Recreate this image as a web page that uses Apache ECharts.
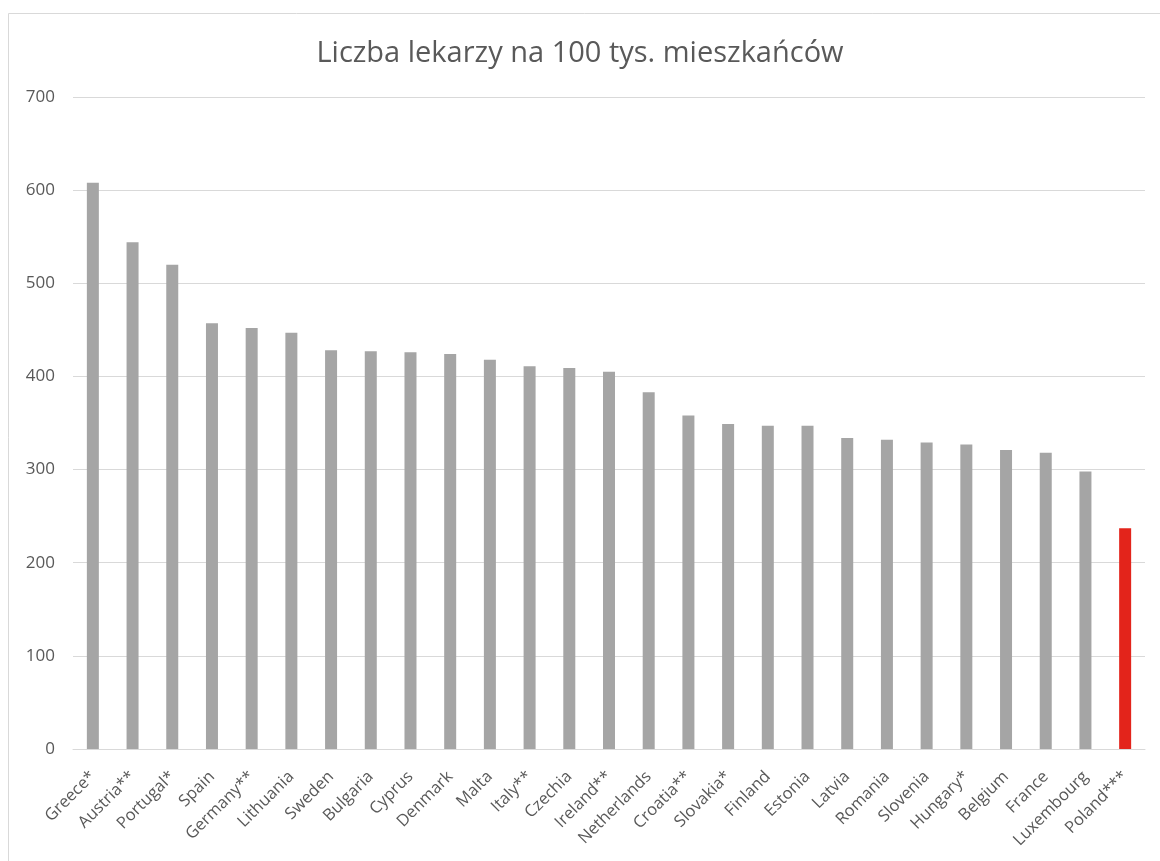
<!DOCTYPE html>
<html>
<head>
<meta charset="utf-8">
<script src="https://cdn.jsdelivr.net/npm/echarts@6/dist/echarts.min.js"></script>
<style>
html,body{margin:0;padding:0;background:#fff;}
#chart{width:1160px;height:861px;}
</style>
</head>
<body>
<div id="chart"></div>
<script>
const titleText = 'Liczba lekarzy na 100 tys. mieszkańców';
const countries = ['Greece*','Austria**','Portugal*','Spain','Germany**','Lithuania','Sweden','Bulgaria','Cyprus','Denmark','Malta','Italy**','Czechia','Ireland**','Netherlands','Croatia**','Slovakia*','Finland','Estonia','Latvia','Romania','Slovenia','Hungary*','Belgium','France','Luxembourg','Poland***'];
const doctors = [608,544,520,457,452,447,428,427,426,424,418,411,409,405,383,358,349,347,347,334,332,329,327,321,318,298,237];
const highlighted = ['Poland***'];
const yTicks = {min:0, max:700, interval:100};

const GRAY = '#a5a5a5', RED = '#e3241b', TXT = '#595959';
const chart = echarts.init(document.getElementById('chart'), null, {renderer:'canvas'});
chart.setOption({
  backgroundColor:'#fff',
  animation:false,
  graphic:[{type:'rect', shape:{x:8.5,y:13.5,width:1200,height:900}, style:{fill:'none', stroke:'#d9d9d9', lineWidth:1}, silent:true}],
  title:{text:titleText, left:'center', top:34, textStyle:{fontFamily:'Open Sans', fontSize:29, fontWeight:'normal', color:TXT}},
  grid:{left:73, right:15, top:97, bottom:112, containLabel:false},
  xAxis:{type:'category', data:countries,
    axisLine:{lineStyle:{color:'#d9d9d9'}}, axisTick:{show:false},
    axisLabel:{rotate:45, interval:0, fontFamily:'Open Sans', fontSize:16.5, color:TXT, margin:25}},
  yAxis:{type:'value', min:yTicks.min, max:yTicks.max, interval:yTicks.interval,
    axisLine:{show:false}, axisTick:{show:false},
    splitLine:{lineStyle:{color:'#d9d9d9'}},
    axisLabel:{fontFamily:'Open Sans', fontSize:17, color:TXT, margin:18}},
  series:[{type:'bar', data:doctors, barWidth:12,
    itemStyle:{color:p => highlighted.includes(p.name) ? RED : GRAY}}]
});
</script>
</body>
</html>
